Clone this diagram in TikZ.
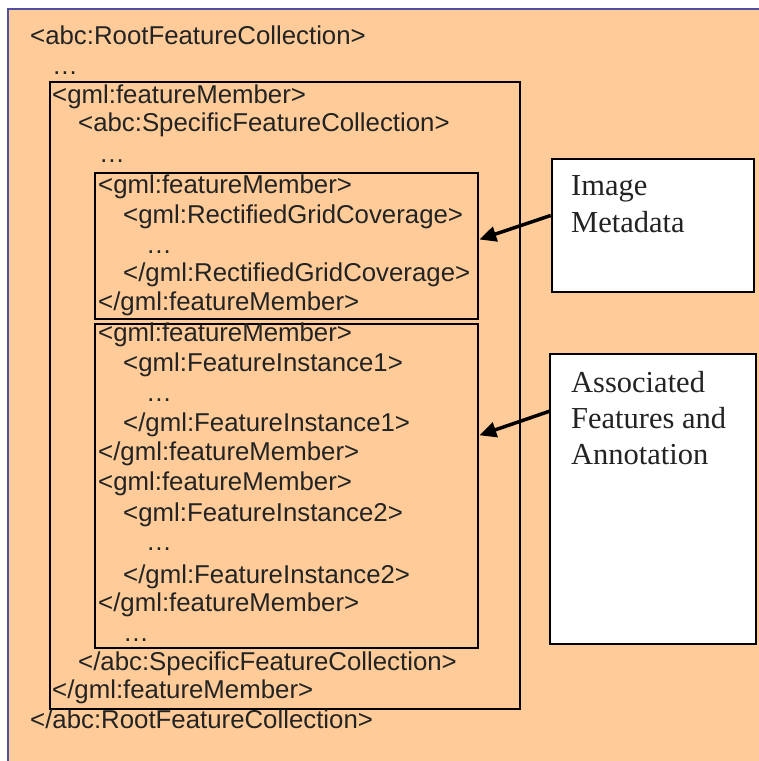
\documentclass[tikz,border=0pt]{standalone}
\usepackage{fontspec}
\setmainfont{Liberation Serif}
\newfontfamily\arialf{Liberation Sans}
\usetikzlibrary{arrows.meta}
\definecolor{peach}{RGB}{255,204,153}
\definecolor{frameblue}{RGB}{80,80,160}
\definecolor{txt}{RGB}{35,35,35}
\begin{document}
\begin{tikzpicture}[x=1pt,y=-1pt,
  code/.style={anchor=base west,inner sep=0pt,text=txt,font=\arialf\fontsize{25.8}{30}\selectfont},
  note/.style={anchor=base west,inner sep=0pt,text=txt,font=\fontsize{30.5}{36}\selectfont},
  xbox/.style={draw=black,line width=2pt,anchor=north west,inner sep=0pt},
  wbox/.style={draw=black,line width=2pt,fill=white,anchor=north west,inner sep=0pt},
  arr/.style={line width=3.5pt,-{Triangle[length=17pt,width=15pt]}}]
\useasboundingbox (0,0) rectangle (759,761);
\fill[peach] (8,8) rectangle (759,761);
\draw[frameblue,line width=2.5pt] (8,761) -- (8,9) -- (759,9);

% boxes
\node[xbox,minimum width=470pt,minimum height=627pt] (outer) at (49,81) {};
\node[xbox,minimum width=383pt,minimum height=146pt] (fm1) at (94.3,171.5) {};
\node[xbox,minimum width=383pt,minimum height=324pt] (fm2) at (94.3,323.3) {};
\node[wbox,minimum width=202.5pt,minimum height=133.5pt] (imgbox) at (550.8,157.7) {};
\node[wbox,minimum width=205.7pt,minimum height=290pt] (assocbox) at (549.3,353.3) {};

% code text
\node[code] (l0) at (30,44) {<abc:RootFeatureCollection>};
\node[code] (l1) at (52,74) {…};
\node[code] (l2) at (52,103) {<gml:featureMember>};
\node[code] (l3) at (78,131.5) {<abc:SpecificFeatureCollection>};
\node[code] (l4) at (99,162.5) {…};
\node[code] (l5) at (98,193.3) {<gml:featureMember>};
\node[code] (l6) at (123,223.3) {<gml:RectifiedGridCoverage>};
\node[code] (l7) at (146,253) {…};
\node[code] (l8) at (123,281.7) {</gml:RectifiedGridCoverage>};
\node[code] (l9) at (98,310) {</gml:featureMember>};
\node[code] (l10) at (98,341.7) {<gml:featureMember>};
\node[code] (l11) at (123,371.7) {<gml:FeatureInstance1>};
\node[code] (l12) at (146,401.7) {…};
\node[code] (l13) at (123,431.7) {</gml:FeatureInstance1>};
\node[code] (l14) at (98,460.7) {</gml:featureMember>};
\node[code] (l15) at (98,490) {<gml:featureMember>};
\node[code] (l16) at (123,521.7) {<gml:FeatureInstance2>};
\node[code] (l17) at (146,550) {…};
\node[code] (l18) at (123,583.3) {</gml:FeatureInstance2>};
\node[code] (l19) at (98,611.7) {</gml:featureMember>};
\node[code] (l20) at (123,641.7) {…};
\node[code] (l21) at (78,670) {</abc:SpecificFeatureCollection>};
\node[code] (l22) at (52,698.3) {</gml:featureMember>};
\node[code] (l23) at (30,728.3) {</abc:RootFeatureCollection>};

% notes
\node[note] (n1) at (571,195.7) {Image};
\node[note] (n2) at (571,232.3) {Metadata};
\node[note] (n3) at (571,392.3) {Associated};
\node[note] (n4) at (571,428.3) {Features and};
\node[note] (n5) at (571,464.5) {Annotation};

% arrows
\draw[arr] ([yshift=10pt]imgbox.west) -- ([yshift=6pt]fm1.east);
\draw[arr] ([yshift=88pt]assocbox.west) -- ([yshift=51pt]fm2.east);
\end{tikzpicture}
\end{document}
